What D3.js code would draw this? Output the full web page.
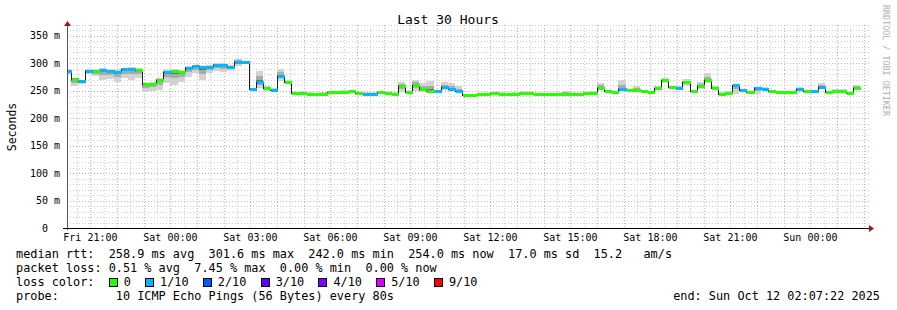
<!DOCTYPE html>
<html>
<head>
<meta charset="utf-8">
<script src="https://cdn.jsdelivr.net/npm/d3@7"></script>
<style>
body { margin: 0; background: #fff; }
text { font-family: "DejaVu Sans Mono", monospace; white-space: pre; }
</style>
</head>
<body>
<div id="chart"></div>
<script>
// smokeping style latency graph, 16 min steps

var startTime = Date.UTC(2025, 9, 10, 20, 7, 22);
var endTime = Date.UTC(2025, 9, 12, 2, 7, 22);
var firstStep = Date.UTC(2025, 9, 10, 20, 0, 0);
var stepMs = 16 * 60 * 1000;

// median rtt per step (ms)
var median = [286, 271, 268, 287, 286, 288, 287, 284, 290, 290,
  288, 262, 263, 270, 285, 286, 285, 292, 295, 293,
  294, 298, 297, 294, 303, 302, 254, 266, 256, 252,
  277, 267, 246, 246, 245, 244, 245, 248, 248, 248,
  249, 245.5, 245, 245, 247, 246, 245, 259, 247, 260.5,
  253, 250, 249, 257, 253, 249, 242.5, 242.5, 243.7, 244,
  246, 245, 244, 245, 246, 246, 243.5, 244, 244, 244,
  244, 244.5, 244, 246.5, 246.5, 256, 250, 247, 252.5, 251,
  252, 250, 248.5, 255, 269, 257, 256, 266, 250, 259,
  269, 255, 245, 245.5, 261, 251, 248.5, 256, 254, 250,
  248, 248.5, 248, 254, 249, 249, 257, 248, 249, 250,
  245.5, 255];

// smoke envelope per step (ms)
var smokeLo = [278, 258, 262, 280, 277, 270, 272, 267, 273, 270,
  274, 247, 250, 251, 264, 261, 267, 276, 282, 270,
  282, 286, 284, 286, 296, 299, 251, 255, 250, 249,
  268, 265, 245, 244, 244, 243, 244, 246, 246, 246,
  247, 244, 244, 244, 245, 244, 244, 248, 246, 249,
  248, 248, 247, 252, 249, 248, 241, 241, 242, 243,
  244, 244, 243, 244, 244, 245, 242, 243, 243, 243,
  243, 243, 243, 245, 245, 253, 248, 245, 250, 249,
  250, 248, 247, 252, 265, 254, 254, 259, 248, 254,
  264, 253, 243, 243, 245, 248, 247, 244, 252, 248,
  246, 247, 246, 252, 247, 247, 254, 246, 247, 248,
  244, 253];
var smokeHi = [290, 274, 270, 289, 290, 291, 290, 289, 292, 293,
  291, 265, 266, 274, 289, 290, 288, 295, 297, 296,
  297, 300, 300, 297, 308, 304, 256, 287, 259, 255,
  290, 269, 248, 250, 247, 246, 247, 250, 250, 251,
  251, 247, 247, 247, 249, 248, 247, 267, 249, 270,
  264, 268, 251, 266, 264, 258, 244, 244, 245, 246,
  248, 247, 246, 247, 248, 248, 245, 246, 246, 246,
  250, 247, 246, 248, 249, 264, 252, 249, 269, 253,
  259, 251, 250, 258, 274, 259, 258, 271, 252, 266,
  283, 258, 247, 250, 262, 253, 250, 257, 257, 252,
  250, 250, 250, 257, 251, 251, 264, 250, 253, 253,
  247, 261];

// loss level per step (index into lossColors)
var lossLevel = [1, 0, 1, 1, 0, 1, 1, 1, 1, 1,
  0, 0, 0, 0, 1, 0, 0, 1, 1, 1,
  1, 1, 1, 1, 1, 1, 1, 1, 0, 1,
  1, 0, 0, 0, 0, 0, 0, 0, 0, 0,
  0, 0, 1, 1, 0, 0, 0, 0, 0, 0,
  0, 0, 1, 1, 1, 1, 0, 0, 0, 0,
  0, 0, 0, 0, 0, 0, 0, 0, 0, 0,
  0, 0, 0, 0, 0, 0, 0, 0, 1, 0,
  0, 0, 0, 0, 0, 0, 1, 0, 0, 0,
  0, 0, 0, 0, 1, 1, 0, 1, 1, 0,
  0, 0, 0, 1, 0, 1, 1, 0, 0, 0,
  0, 0];

var lossColors = ["#26ff00", "#00b8ff", "#0059ff", "#5e00ff", "#7e00ff", "#dd00ff", "#ff0000"];
var lossLabels = ["0", "1/10", "2/10", "3/10", "4/10", "5/10", "9/10"];

var yTicks = [0, 50, 100, 150, 200, 250, 300, 350];
var yTickLabels = ["0", "50 m", "100 m", "150 m", "200 m", "250 m", "300 m", "350 m"];

var legendLines = [
  "median rtt:  258.9 ms avg  301.6 ms max  242.0 ms min  254.0 ms now  17.0 ms sd  15.2   am/s",
  "packet loss: 0.51 % avg  7.45 % max  0.00 % min  0.00 % now"
];
var probeText = "probe:        10 ICMP Echo Pings (56 Bytes) every 80s";
var endText = "end: Sun Oct 12 02:07:22 2025";

var svgWidth = 897;
var svgHeight = 310;
var plot = { left: 67, right: 867, top: 25, bottom: 228 };
var legFont = "11.85px";
var charW = 7.13;

var svg = d3.select("#chart")
  .append("svg")
  .attr("width", svgWidth)
  .attr("height", svgHeight);

var x = d3.scaleUtc()
  .domain([startTime, endTime])
  .range([plot.left, plot.right]);

var y = d3.scaleLinear()
  .domain([0, 370])
  .range([plot.bottom, plot.top]);

svg.append("clipPath").attr("id", "clip")
  .append("rect")
  .attr("x", plot.left).attr("y", plot.top)
  .attr("width", plot.right - plot.left).attr("height", plot.bottom - plot.top);

// grid
var grid = svg.append("g").attr("shape-rendering", "crispEdges");

grid.selectAll(".hmin")
  .data(y.ticks(37).filter(d => d % 50 !== 0))
  .enter().append("line")
  .attr("x1", plot.left).attr("x2", plot.right + 2)
  .attr("y1", d => Math.round(y(d)) + 0.5).attr("y2", d => Math.round(y(d)) + 0.5)
  .attr("stroke", "#cfcfcf").attr("stroke-dasharray", "1,2");

grid.selectAll(".vmin")
  .data(x.ticks(d3.utcMinute.every(30)).filter(d => d.getUTCMinutes() !== 0))
  .enter().append("line")
  .attr("x1", d => Math.round(x(d)) + 0.5).attr("x2", d => Math.round(x(d)) + 0.5)
  .attr("y1", plot.top).attr("y2", plot.bottom)
  .attr("stroke", "#cfcfcf").attr("stroke-dasharray", "1,2");

grid.selectAll(".hmaj")
  .data(y.ticks(7).filter(d => d > 0))
  .enter().append("line")
  .attr("x1", plot.left).attr("x2", plot.right + 2)
  .attr("y1", d => Math.round(y(d)) + 0.5).attr("y2", d => Math.round(y(d)) + 0.5)
  .attr("stroke", "#f2a0a0").attr("stroke-dasharray", "1,2");

grid.selectAll(".vmaj")
  .data(x.ticks(d3.utcHour.every(1)))
  .enter().append("line")
  .attr("x1", d => Math.round(x(d)) + 0.5).attr("x2", d => Math.round(x(d)) + 0.5)
  .attr("y1", plot.top).attr("y2", plot.bottom)
  .attr("stroke", "#f2a0a0").attr("stroke-dasharray", "1,2");

// data
var steps = median.map(function(m, i) {
  return {
    t0: firstStep + i * stepMs,
    t1: firstStep + (i + 1) * stepMs,
    med: m,
    lo: smokeLo[i],
    hi: smokeHi[i],
    loss: lossLevel[i]
  };
});

var dataG = svg.append("g").attr("clip-path", "url(#clip)").attr("shape-rendering", "crispEdges");

function band(cls, color, loF, hiF) {
  dataG.selectAll("." + cls)
    .data(steps)
    .enter().append("rect")
    .attr("class", cls)
    .attr("x", d => Math.round(x(d.t0)))
    .attr("width", d => Math.round(x(d.t1)) - Math.round(x(d.t0)))
    .attr("y", d => Math.round(y(hiF(d))))
    .attr("height", d => Math.max(0, Math.round(y(loF(d))) - Math.round(y(hiF(d)))))
    .attr("fill", color);
}

band("smoke1", "#d2d2d2", d => d.lo, d => d.hi);
band("smoke2", "#aaaaaa", d => (d.lo + d.med) / 2, d => (d.hi + d.med) / 2);
band("smoke3", "#6e6e6e", d => d.med - (d.med - d.lo) / 5, d => d.med + (d.hi - d.med) / 5);

var linePts = steps.map(d => [d.t0, d.med]);
linePts.push([steps[steps.length - 1].t1, steps[steps.length - 1].med]);

var medLine = d3.line()
  .x(d => Math.round(x(d[0])) + 0.5)
  .y(d => Math.round(y(d[1])) + 0.5)
  .curve(d3.curveStepAfter);

dataG.append("path")
  .datum(linePts)
  .attr("d", medLine)
  .attr("fill", "none")
  .attr("stroke", "#202020")
  .attr("stroke-width", 1);

dataG.selectAll(".med")
  .data(steps)
  .enter().append("rect")
  .attr("class", "med")
  .attr("x", d => Math.round(x(d.t0)) + 1)
  .attr("width", d => Math.round(x(d.t1)) - Math.round(x(d.t0)))
  .attr("y", d => Math.round(y(d.med)) - 1)
  .attr("height", 3)
  .attr("fill", d => lossColors[d.loss]);

// axes
svg.append("line")
  .attr("x1", plot.left + 0.5).attr("x2", plot.left + 0.5)
  .attr("y1", plot.bottom + 2).attr("y2", plot.top - 1)
  .attr("stroke", "#555");
svg.append("line")
  .attr("x1", plot.left - 4).attr("x2", plot.right + 3)
  .attr("y1", plot.bottom + 0.5).attr("y2", plot.bottom + 0.5)
  .attr("stroke", "#000");

svg.append("path")
  .attr("d", `M${plot.left + 0.5},${plot.top - 4} L${plot.left + 4},${plot.top + 1} L${plot.left - 3},${plot.top + 1} Z`)
  .attr("fill", "#a01818");
svg.append("path")
  .attr("d", `M${plot.right + 7},${plot.bottom + 0.5} L${plot.right + 2},${plot.bottom - 3} L${plot.right + 2},${plot.bottom + 4} Z`)
  .attr("fill", "#a01818");

// y labels
svg.selectAll(".ylab")
  .data(yTicks)
  .enter().append("text")
  .attr("x", (d, i) => yTickLabels[i].indexOf("m") < 0 ? 48 : 60)
  .attr("y", d => y(d) + 3.5)
  .attr("text-anchor", "end")
  .attr("font-size", "10px")
  .attr("fill", "#000")
  .text((d, i) => yTickLabels[i]);

// x labels
var fmt = d3.utcFormat("%a %H:%M");
svg.selectAll(".xlab")
  .data(x.ticks(d3.utcHour.every(3)))
  .enter().append("text")
  .attr("x", d => x(d))
  .attr("y", 241)
  .attr("text-anchor", "middle")
  .attr("font-size", "10px")
  .attr("fill", "#000")
  .text(d => fmt(d));

// titles
svg.append("text")
  .attr("x", 448).attr("y", 24)
  .attr("text-anchor", "middle")
  .attr("font-size", "13px")
  .text("Last 30 Hours");

svg.append("text")
  .attr("transform", "translate(15.5,127) rotate(-90)")
  .attr("text-anchor", "middle")
  .attr("font-size", "11.5px")
  .text("Seconds");

svg.append("text")
  .attr("transform", "translate(883,5) rotate(90)")
  .attr("font-size", "8.4px")
  .attr("fill", "#b0b0b0")
  .text("RRDTOOL / TOBI OETIKER");

// legend
var legY = [257.5, 271.8, 286, 300.3];

legendLines.forEach(function(s, i) {
  svg.append("text")
    .attr("x", 16).attr("y", legY[i])
    .attr("font-size", legFont)
    .text(s);
});

svg.append("text")
  .attr("x", 16).attr("y", legY[2])
  .attr("font-size", legFont)
  .text("loss color:");

var bx = 16 + 13 * charW;
lossColors.forEach(function(c, i) {
  svg.append("rect")
    .attr("x", Math.round(bx) + 0.5).attr("y", legY[2] - 7.5)
    .attr("width", 8).attr("height", 8)
    .attr("fill", c).attr("stroke", "#000").attr("stroke-width", 1);
  var lx = bx + 15;
  svg.append("text")
    .attr("x", lx).attr("y", legY[2])
    .attr("font-size", legFont)
    .text(lossLabels[i]);
  bx = lx + (lossLabels[i].length + 2) * charW;
});

svg.append("text")
  .attr("x", 16).attr("y", legY[3])
  .attr("font-size", legFont)
  .text(probeText);

svg.append("text")
  .attr("x", 880).attr("y", legY[3])
  .attr("text-anchor", "end")
  .attr("font-size", legFont)
  .text(endText);
</script>
</body>
</html>
